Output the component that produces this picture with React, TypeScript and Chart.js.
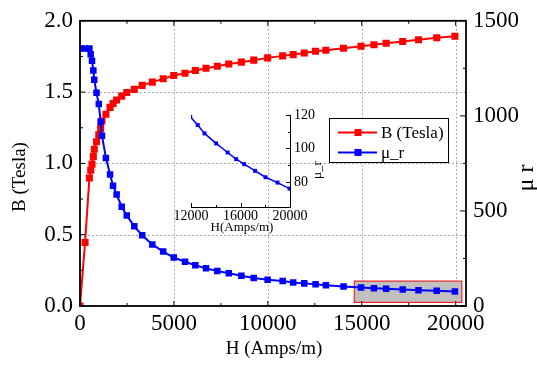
import React, { useEffect, useRef } from "react";
import { Chart, registerables } from "chart.js";

Chart.register(...registerables);

// ---- data ----
const H = [0, 270, 500, 570, 640, 710, 760, 880, 1000, 1100, 1170, 1380, 1600, 1760, 1950, 2220, 2490, 2890, 3310, 3850, 4430, 4990, 5590, 6140, 6710, 7310, 7920, 8590, 9250, 9990, 10790, 11350, 11940, 12540, 13090, 14030, 14960, 15650, 16300, 17180, 18020, 18990, 19960];
const B = [0, 0.445, 0.897, 0.952, 0.995, 1.048, 1.099, 1.152, 1.2, 1.245, 1.297, 1.345, 1.393, 1.42, 1.445, 1.472, 1.497, 1.519, 1.547, 1.57, 1.593, 1.616, 1.632, 1.651, 1.667, 1.681, 1.697, 1.71, 1.724, 1.74, 1.754, 1.763, 1.774, 1.786, 1.793, 1.807, 1.821, 1.832, 1.843, 1.855, 1.867, 1.881, 1.892];
const MU = [1354, 1354, 1354, 1324, 1290, 1238, 1190, 1121, 1062, 969, 896, 779, 692, 633, 586, 522, 476, 419, 372, 324, 286, 255, 233, 214, 198, 184, 172, 159, 147, 138, 131, 124, 119, 114, 109, 103, 97.6, 93.6, 90.6, 86.6, 82.8, 79.6, 76];

const X_TICKS = [0, 5000, 10000, 15000, 20000];
const B_TICKS = [0, 0.5, 1.0, 1.5, 2.0];
const MU_TICKS = [0, 500, 1000, 1500];
const INSET_X_TICKS = [12000, 16000, 20000];
const INSET_Y_TICKS = [80, 100, 120];

const ZOOM_BOX = { x0: 14600, x1: 20330, y0: 19, y1: 131 };

const SERIES_NAMES = ["B (Tesla)", "\u03bc_r"];
const X_TITLE = "H (Amps/m)";
const Y_TITLE = "B (Tesla)";
const Y1_TITLE = "\u03bc r";
const INSET_X_TITLE = "H(Amps/m)";
const INSET_Y_TITLE = "\u03bc_r";

const RED = "#ff0000";
const BLUE = "#0000ff";
const SERIF = "'Liberation Serif', 'Times New Roman', serif";

const midpoints = (arr: number[]) => arr.slice(0, -1).map((v, i) => (v + arr[i + 1]) / 2);

const mainPlugin = {
  id: "mainDecor",
  beforeDatasetsDraw(chart: any) {
    const { ctx, chartArea: a, scales } = chart;
    const x = scales.x, y = scales.y, y1 = scales.y1;
    ctx.save();
    // grid
    ctx.strokeStyle = "#a8a8a8";
    ctx.lineWidth = 1;
    ctx.setLineDash([2, 2]);
    X_TICKS.forEach((v) => {
      if (v === 0) return;
      const px = Math.round(x.getPixelForValue(v)) + 0.5;
      ctx.beginPath(); ctx.moveTo(px, a.top); ctx.lineTo(px, a.bottom); ctx.stroke();
    });
    B_TICKS.forEach((v) => {
      if (v === 0 || v === 2) return;
      const py = Math.round(y.getPixelForValue(v)) + 0.5;
      ctx.beginPath(); ctx.moveTo(a.left, py); ctx.lineTo(a.right, py); ctx.stroke();
    });
    ctx.setLineDash([]);
    // highlight box
    const bx0 = x.getPixelForValue(ZOOM_BOX.x0), bx1 = x.getPixelForValue(ZOOM_BOX.x1);
    const by0 = y1.getPixelForValue(ZOOM_BOX.y1), by1 = y1.getPixelForValue(ZOOM_BOX.y0);
    ctx.fillStyle = "#c0c0c0";
    ctx.fillRect(bx0, by0, bx1 - bx0, by1 - by0);
    ctx.strokeStyle = RED;
    ctx.lineWidth = 1;
    ctx.strokeRect(bx0, by0, bx1 - bx0, by1 - by0);
    ctx.restore();
  },
  afterDatasetsDraw(chart: any) {
    const { ctx, chartArea: a, scales } = chart;
    const x = scales.x, y = scales.y, y1 = scales.y1;
    ctx.save();
    ctx.strokeStyle = "#000";
    ctx.lineWidth = 1;
    const tickX = (v: number, len: number) => {
      const px = x.getPixelForValue(v);
      ctx.beginPath(); ctx.moveTo(px, a.bottom); ctx.lineTo(px, a.bottom - len); ctx.stroke();
      ctx.beginPath(); ctx.moveTo(px, a.top); ctx.lineTo(px, a.top + len); ctx.stroke();
    };
    X_TICKS.forEach((v) => tickX(v, 5));
    midpoints(X_TICKS).forEach((v) => tickX(v, 3));
    const tickY = (v: number, len: number) => {
      const py = y.getPixelForValue(v);
      ctx.beginPath(); ctx.moveTo(a.left, py); ctx.lineTo(a.left + len, py); ctx.stroke();
    };
    B_TICKS.forEach((v) => tickY(v, 5));
    midpoints(B_TICKS).forEach((v) => tickY(v, 3));
    const tickY1 = (v: number, len: number) => {
      const py = y1.getPixelForValue(v);
      ctx.beginPath(); ctx.moveTo(a.right, py); ctx.lineTo(a.right - len, py); ctx.stroke();
    };
    MU_TICKS.forEach((v) => tickY1(v, 6));
    midpoints(MU_TICKS).forEach((v) => tickY1(v, 3));
    // frame
    ctx.lineWidth = 1.8;
    ctx.strokeRect(a.left, a.top, a.right - a.left, a.bottom - a.top);

    // legend
    const lx = 329.5, ly = 118.5, lw = 119, lh = 44;
    ctx.fillStyle = "#fff";
    ctx.fillRect(lx, ly, lw, lh);
    ctx.strokeStyle = "#000";
    ctx.lineWidth = 1;
    ctx.strokeRect(lx, ly, lw, lh);
    const rows = [{ c: RED, y: 132.5 }, { c: BLUE, y: 152.5 }];
    ctx.font = `17px ${SERIF}`;
    ctx.textBaseline = "middle";
    ctx.textAlign = "left";
    rows.forEach((r, i) => {
      ctx.strokeStyle = r.c;
      ctx.lineWidth = 2;
      ctx.beginPath(); ctx.moveTo(338, r.y); ctx.lineTo(377, r.y); ctx.stroke();
      ctx.fillStyle = r.c;
      ctx.fillRect(354.5, r.y - 3.5, 7, 7);
      ctx.fillStyle = "#000";
      ctx.fillText(SERIES_NAMES[i], 381, r.y + 1);
    });

    // axis titles
    ctx.fillStyle = "#000";
    ctx.textAlign = "center";
    ctx.textBaseline = "middle";
    ctx.font = `19px ${SERIF}`;
    ctx.fillText(X_TITLE, 274, 349);
    ctx.save();
    ctx.translate(20, 177);
    ctx.rotate(-Math.PI / 2);
    ctx.fillText(Y_TITLE, 0, 0);
    ctx.restore();
    ctx.save();
    ctx.font = `24px ${SERIF}`;
    ctx.translate(527, 178);
    ctx.rotate(-Math.PI / 2);
    ctx.fillText(Y1_TITLE, 0, 0);
    ctx.restore();
    ctx.restore();
  },
};

const insetPlugin = {
  id: "insetDecor",
  afterDatasetsDraw(chart: any) {
    const { ctx, chartArea: a, scales } = chart;
    const x = scales.x, y = scales.y;
    ctx.save();
    ctx.strokeStyle = "#000";
    ctx.lineWidth = 1;
    ctx.beginPath();
    ctx.moveTo(a.left, a.bottom + 0.5); ctx.lineTo(a.right + 0.5, a.bottom + 0.5);
    ctx.moveTo(a.right + 0.5, a.bottom + 0.5); ctx.lineTo(a.right + 0.5, a.top);
    ctx.stroke();
    const tx = (v: number, len: number) => {
      const px = Math.round(x.getPixelForValue(v)) + 0.5;
      ctx.beginPath(); ctx.moveTo(px, a.bottom); ctx.lineTo(px, a.bottom - len); ctx.stroke();
    };
    INSET_X_TICKS.forEach((v) => tx(v, 4));
    midpoints(INSET_X_TICKS).forEach((v) => tx(v, 2));
    const ty = (v: number, len: number) => {
      const py = Math.round(y.getPixelForValue(v)) + 0.5;
      ctx.beginPath(); ctx.moveTo(a.right, py); ctx.lineTo(a.right - len, py); ctx.stroke();
    };
    INSET_Y_TICKS.forEach((v) => ty(v, 4));
    midpoints(INSET_Y_TICKS).forEach((v) => ty(v, 2));
    ctx.fillStyle = "#000";
    ctx.textAlign = "center";
    ctx.textBaseline = "middle";
    ctx.font = `13px ${SERIF}`;
    ctx.fillText(INSET_X_TITLE, 72, 128);
    ctx.translate(148, 70);
    ctx.rotate(-Math.PI / 2);
    ctx.fillText(INSET_Y_TITLE, 0, 0);
    ctx.restore();
  },
};

export default function App() {
  const mainRef = useRef<HTMLCanvasElement | null>(null);
  const insetRef = useRef<HTMLCanvasElement | null>(null);

  useEffect(() => {
    const tickFont = { family: SERIF, size: 23 };
    const points = (ys: number[]) => H.map((h, i) => ({ x: h, y: ys[i] }));
    const main = new Chart(mainRef.current as HTMLCanvasElement, {
      type: "line",
      data: {
        datasets: [
          {
            label: SERIES_NAMES[0],
            data: points(B),
            yAxisID: "y",
            borderColor: RED,
            backgroundColor: RED,
            borderWidth: 2,
            pointStyle: "rect",
            pointRadius: 5,
            pointBorderWidth: 0,
            order: 2,
          },
          {
            label: SERIES_NAMES[1],
            data: points(MU),
            yAxisID: "y1",
            borderColor: BLUE,
            backgroundColor: BLUE,
            borderWidth: 2,
            pointStyle: "rect",
            pointRadius: 4.6,
            pointBorderWidth: 0,
            order: 1,
          },
        ],
      },
      options: {
        animation: false,
        responsive: false,
        devicePixelRatio: 1,
        layout: { padding: { top: 16, left: 0, right: 0, bottom: 0 } },
        plugins: { legend: { display: false }, tooltip: { enabled: false } },
        scales: {
          x: {
            type: "linear",
            min: 0,
            max: 20550,
            afterFit: (s: any) => { s.height = 59; },
            afterBuildTicks: (s: any) => { s.ticks = X_TICKS.map((v) => ({ value: v })); },
            grid: { display: false, drawTicks: false },
            border: { display: false },
            ticks: { font: tickFont, color: "#000", padding: 4, maxRotation: 0, autoSkip: false, callback: (v: any) => String(v) },
          },
          y: {
            type: "linear",
            position: "left",
            min: 0,
            max: 2,
            afterFit: (s: any) => { s.width = 80; },
            afterBuildTicks: (s: any) => { s.ticks = B_TICKS.map((v) => ({ value: v })); },
            grid: { display: false, drawTicks: false },
            border: { display: false },
            ticks: { font: tickFont, color: "#000", padding: 7, callback: (v: any) => Number(v).toFixed(1) },
          },
          y1: {
            type: "linear",
            position: "right",
            min: 0,
            max: 1500,
            afterFit: (s: any) => { s.width = 71; },
            afterBuildTicks: (s: any) => { s.ticks = MU_TICKS.map((v) => ({ value: v })); },
            grid: { display: false, drawTicks: false },
            border: { display: false },
            ticks: { font: tickFont, color: "#000", padding: 7, callback: (v: any) => String(v) },
          },
        },
      },
      plugins: [mainPlugin],
    });

    const insetFont = { family: SERIF, size: 14 };
    const inset = new Chart(insetRef.current as HTMLCanvasElement, {
      type: "line",
      data: {
        datasets: [
          {
            label: SERIES_NAMES[1],
            data: points(MU),
            borderColor: BLUE,
            backgroundColor: BLUE,
            borderWidth: 1.5,
            pointStyle: "rect",
            pointRadius: 2.8,
            pointBorderWidth: 0,
          },
        ],
      },
      options: {
        animation: false,
        responsive: false,
        devicePixelRatio: 1,
        layout: { padding: { top: 15, left: 21, right: 0, bottom: 0 } },
        plugins: { legend: { display: false }, tooltip: { enabled: false } },
        scales: {
          x: {
            type: "linear",
            min: 12000,
            max: 20000,
            afterFit: (s: any) => { s.height = 33; },
            afterBuildTicks: (s: any) => { s.ticks = INSET_X_TICKS.map((v) => ({ value: v })); },
            grid: { display: false, drawTicks: false },
            border: { display: false },
            ticks: { font: insetFont, color: "#000", padding: 1, maxRotation: 0, autoSkip: false, callback: (v: any) => String(v) },
          },
          y: {
            type: "linear",
            position: "right",
            min: 65,
            max: 120,
            afterFit: (s: any) => { s.width = 40; },
            afterBuildTicks: (s: any) => { s.ticks = INSET_Y_TICKS.map((v) => ({ value: v })); },
            grid: { display: false, drawTicks: false },
            border: { display: false },
            ticks: { font: insetFont, color: "#000", padding: 4, callback: (v: any) => String(v) },
          },
        },
      },
      plugins: [insetPlugin],
    });

    return () => {
      main.destroy();
      inset.destroy();
    };
  }, []);

  return (
    <div style={{ position: "absolute", left: 0, top: 0, width: 537, height: 365, background: "#fff" }}>
      <canvas ref={mainRef} width={537} height={365} style={{ position: "absolute", left: 0, top: 0, display: "block" }} />
      <canvas ref={insetRef} width={160} height={140} style={{ position: "absolute", left: 170, top: 100, display: "block" }} />
    </div>
  );
}
